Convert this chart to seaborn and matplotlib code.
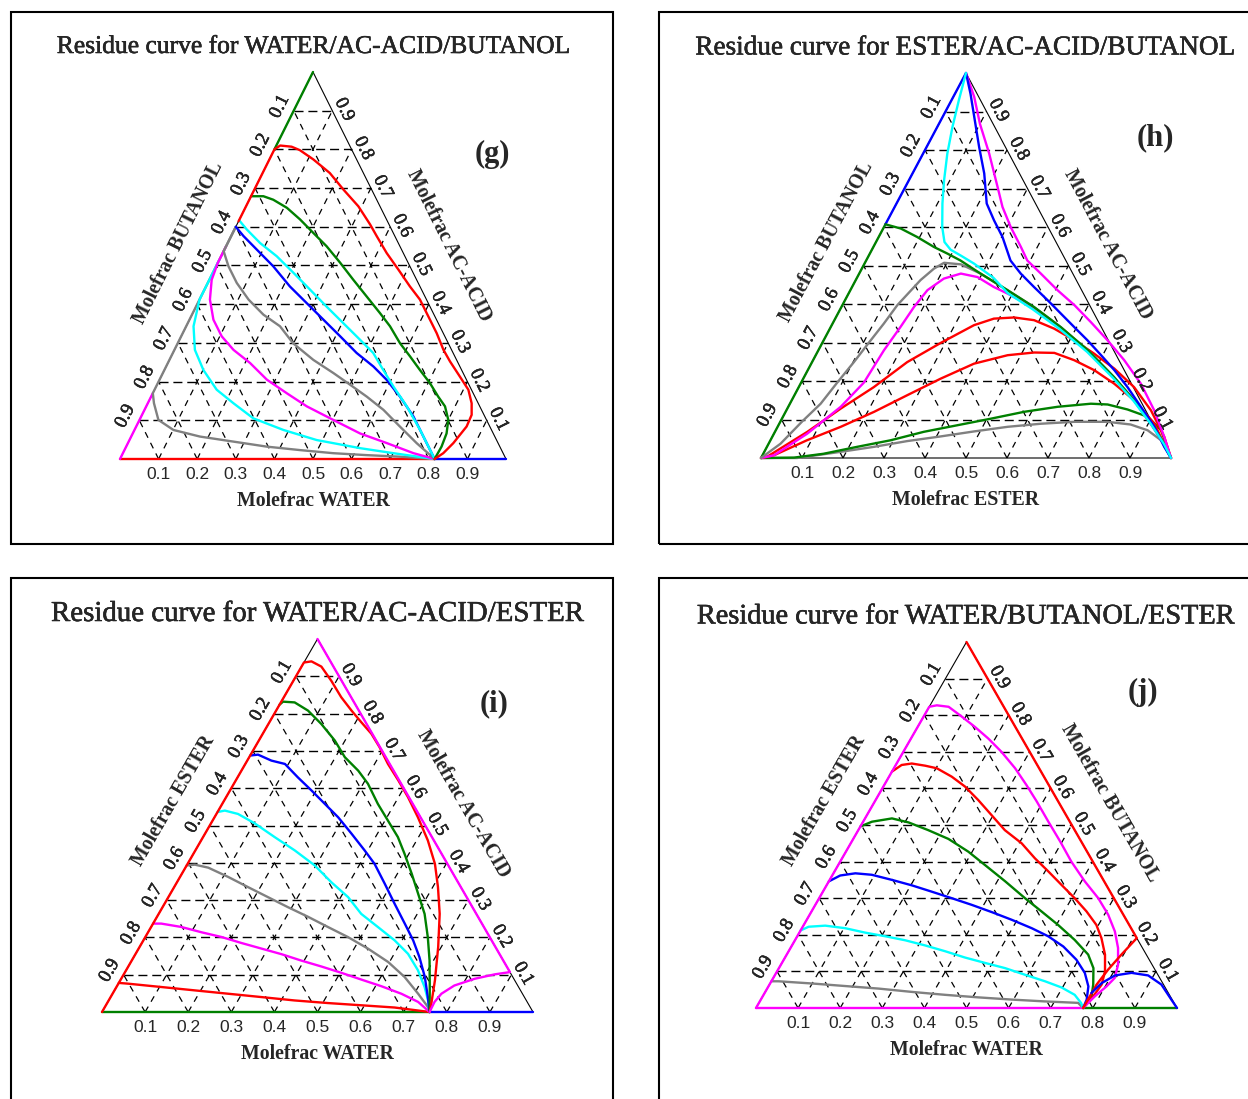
import numpy as np
import matplotlib
matplotlib.use("Agg")
import matplotlib.pyplot as plt
import matplotlib.patheffects as pe
from matplotlib.patches import Rectangle
import seaborn as sns

# compositions as (bottom-axis component, top component) molefractions
TICKS = [0.1, 0.2, 0.3, 0.4, 0.5, 0.6, 0.7, 0.8, 0.9]

# ---- (g) WATER / AC-ACID / BUTANOL ----
G_BOTTOM_RED = [(0, 0), (0.815, 0)]
G_BOTTOM_BLUE = [(0.815, 0), (1, 0)]
G_EDGE_MAGENTA = [(0, 0), (0, 0.17)]
G_EDGE_GREEN = [(0, 0.80), (0, 1)]
G_GRAY_2 = [(0, 0.60), (0, 0.17), (0.016, 0.144), (0.049, 0.101), (0.101, 0.075), (0.178, 0.058),
            (0.271, 0.045), (0.364, 0.032), (0.455, 0.023), (0.545, 0.015), (0.634, 0.010),
            (0.722, 0.006), (0.815, 0)]
G_CYAN_2 = [(0, 0.515), (0, 0.412), (0.019, 0.343), (0.053, 0.282), (0.101, 0.230), (0.161, 0.179),
            (0.222, 0.144), (0.293, 0.105), (0.386, 0.075), (0.485, 0.049), (0.608, 0.028),
            (0.701, 0.015), (0.815, 0)]
G_MAGENTA = [(0, 0.55), (0, 0.507), (0.006, 0.463), (0.027, 0.412), (0.062, 0.360), (0.105, 0.317),
             (0.153, 0.282), (0.213, 0.248), (0.278, 0.205), (0.347, 0.170), (0.416, 0.136),
             (0.502, 0.101), (0.589, 0.066), (0.671, 0.041), (0.753, 0.015), (0.815, 0)]
G_GRAY_1 = [(0, 0.60), (0, 0.537), (0.032, 0.498), (0.075, 0.455), (0.127, 0.412), (0.185, 0.373),
            (0.243, 0.343), (0.299, 0.299), (0.373, 0.256), (0.442, 0.222), (0.500, 0.192),
            (0.559, 0.161), (0.619, 0.127), (0.683, 0.084), (0.748, 0.041), (0.815, 0)]
G_BLUE = [(0, 0.600), (0.032, 0.576), (0.084, 0.541), (0.148, 0.498), (0.217, 0.446), (0.282, 0.403),
          (0.347, 0.360), (0.412, 0.317), (0.476, 0.274), (0.537, 0.239), (0.588, 0.205),
          (0.645, 0.161), (0.705, 0.110), (0.757, 0.058), (0.792, 0.023), (0.815, 0)]
G_CYAN_1 = [(0, 0.617), (0.032, 0.593), (0.084, 0.558), (0.144, 0.524), (0.209, 0.481), (0.273, 0.438),
            (0.338, 0.394), (0.403, 0.351), (0.468, 0.308), (0.519, 0.274), (0.567, 0.230),
            (0.615, 0.187), (0.675, 0.136), (0.740, 0.075), (0.783, 0.032), (0.815, 0)]
G_GREEN = [(0, 0.679), (0.032, 0.679), (0.062, 0.670), (0.108, 0.649), (0.157, 0.619), (0.209, 0.584),
           (0.260, 0.550), (0.317, 0.507), (0.373, 0.463), (0.429, 0.420), (0.485, 0.377),
           (0.528, 0.343), (0.576, 0.299), (0.619, 0.265), (0.662, 0.230), (0.705, 0.196),
           (0.744, 0.161), (0.774, 0.136), (0.800, 0.101), (0.813, 0.066), (0.817, 0.032), (0.815, 0)]
G_RED = [(0, 0.614), (0, 0.80), (0.010, 0.810), (0.041, 0.807), (0.067, 0.798), (0.114, 0.774),
         (0.174, 0.739), (0.231, 0.696), (0.291, 0.653), (0.345, 0.606), (0.377, 0.576),
         (0.425, 0.532), (0.477, 0.489), (0.528, 0.446), (0.571, 0.412), (0.615, 0.368),
         (0.658, 0.325), (0.697, 0.282), (0.729, 0.252), (0.774, 0.213), (0.813, 0.179),
         (0.839, 0.144), (0.854, 0.114), (0.856, 0.084), (0.843, 0.041), (0.830, 0.015), (0.815, 0)]

# ---- (h) ESTER / AC-ACID / BUTANOL ----
H_EDGE_GREEN = [(0, 0), (0, 0.607)]
H_EDGE_BLUE = [(0, 0.607), (0, 1)]
H_GRAY_2 = [(0, 0), (0.088, 0), (0.186, 0.016), (0.261, 0.029), (0.335, 0.044), (0.410, 0.056),
            (0.485, 0.069), (0.561, 0.081), (0.638, 0.089), (0.717, 0.094), (0.798, 0.094),
            (0.858, 0.087), (0.907, 0.072), (0.953, 0.046), (1, 0)]
H_GREEN_2 = [(0, 0), (0.08, 0.001), (0.147, 0.011), (0.220, 0.029), (0.293, 0.046), (0.363, 0.068),
             (0.436, 0.085), (0.509, 0.102), (0.582, 0.120), (0.657, 0.133), (0.734, 0.141),
             (0.776, 0.139), (0.831, 0.126), (0.890, 0.107), (0.940, 0.072), (1, 0)]
H_RED_2 = [(0, 0), (0.028, 0.007), (0.089, 0.046), (0.154, 0.081), (0.216, 0.120), (0.275, 0.163),
           (0.335, 0.206), (0.397, 0.245), (0.468, 0.267), (0.529, 0.274), (0.579, 0.273),
           (0.637, 0.254), (0.699, 0.228), (0.765, 0.193), (0.835, 0.150), (0.915, 0.089), (1, 0)]
H_RED_1 = [(0, 0), (0.013, 0.003), (0.079, 0.068), (0.130, 0.128), (0.183, 0.184), (0.232, 0.249),
           (0.289, 0.299), (0.347, 0.345), (0.387, 0.362), (0.435, 0.365), (0.487, 0.358),
           (0.547, 0.336), (0.611, 0.306), (0.677, 0.271), (0.746, 0.232), (0.818, 0.184),
           (0.889, 0.124), (0.956, 0.055), (1, 0)]
H_MAGENTA_1 = [(0, 0), (0.028, 0.007), (0.081, 0.063), (0.128, 0.133), (0.153, 0.196), (0.160, 0.280),
               (0.170, 0.340), (0.177, 0.392), (0.188, 0.436), (0.213, 0.466), (0.248, 0.479),
               (0.293, 0.470), (0.346, 0.444), (0.388, 0.427), (0.470, 0.390), (0.561, 0.338),
               (0.657, 0.278), (0.756, 0.209), (0.835, 0.149), (0.907, 0.088), (0.965, 0.036), (1, 0)]
H_GRAY_1 = [(0, 0), (0.029, 0.037), (0.053, 0.095), (0.075, 0.141), (0.088, 0.196), (0.102, 0.249),
            (0.112, 0.294), (0.125, 0.349), (0.134, 0.397), (0.158, 0.462), (0.176, 0.492),
            (0.193, 0.507), (0.236, 0.503), (0.296, 0.479), (0.383, 0.436), (0.470, 0.392),
            (0.561, 0.340), (0.657, 0.280), (0.756, 0.210), (0.835, 0.150), (0.907, 0.089),
            (0.965, 0.037), (1, 0)]
H_GREEN_1 = [(0, 0.607), (0.043, 0.596), (0.094, 0.574), (0.148, 0.548), (0.189, 0.531), (0.230, 0.513),
             (0.296, 0.479), (0.383, 0.436), (0.470, 0.392), (0.561, 0.340), (0.657, 0.280),
             (0.756, 0.210), (0.835, 0.150), (0.907, 0.089), (0.965, 0.037), (1, 0)]
H_MAGENTA_2 = [(0, 1), (0.051, 0.938), (0.100, 0.868), (0.161, 0.791), (0.225, 0.704), (0.263, 0.652),
               (0.309, 0.600), (0.360, 0.548), (0.393, 0.513), (0.443, 0.479), (0.505, 0.436),
               (0.566, 0.397), (0.628, 0.353), (0.692, 0.306), (0.759, 0.254), (0.830, 0.193),
               (0.897, 0.124), (0.956, 0.055), (1, 0)]
H_BLUE = [(0, 1), (0.038, 0.946), (0.083, 0.877), (0.128, 0.808), (0.175, 0.739), (0.220, 0.661),
          (0.260, 0.617), (0.302, 0.574), (0.352, 0.513), (0.394, 0.479), (0.444, 0.444),
          (0.494, 0.410), (0.544, 0.375), (0.594, 0.340), (0.643, 0.306), (0.696, 0.267),
          (0.748, 0.228), (0.802, 0.184), (0.860, 0.133), (0.919, 0.081), (0.969, 0.029), (1, 0)]
H_CYAN = [(0, 1), (0.018, 0.929), (0.037, 0.860), (0.059, 0.791), (0.086, 0.721), (0.112, 0.661),
          (0.142, 0.600), (0.167, 0.561), (0.192, 0.541), (0.224, 0.526), (0.267, 0.505),
          (0.333, 0.468), (0.388, 0.428), (0.470, 0.386), (0.561, 0.335), (0.657, 0.276),
          (0.756, 0.207), (0.835, 0.148), (0.907, 0.088), (0.965, 0.036), (1, 0)]

# ---- (i) WATER / AC-ACID / ESTER ----
I_BOTTOM_GREEN = [(0, 0), (0.76, 0)]
I_BOTTOM_BLUE = [(0.76, 0), (1, 0)]
I_RED_2 = [(0, 0.078), (0.022, 0.076), (0.104, 0.067), (0.186, 0.058), (0.268, 0.049), (0.350, 0.040),
           (0.431, 0.031), (0.512, 0.024), (0.593, 0.018), (0.673, 0.012), (0.76, 0)]
I_MAGENTA_2 = [(0, 0.237), (0.019, 0.237), (0.070, 0.228), (0.123, 0.214), (0.177, 0.201),
               (0.231, 0.185), (0.285, 0.170), (0.339, 0.155), (0.393, 0.138), (0.448, 0.122),
               (0.503, 0.105), (0.558, 0.087), (0.614, 0.069), (0.670, 0.049), (0.720, 0.027), (0.76, 0)]
I_GRAY = [(0, 0.393), (0.018, 0.395), (0.053, 0.387), (0.112, 0.362), (0.171, 0.335), (0.231, 0.308),
          (0.291, 0.281), (0.351, 0.255), (0.410, 0.228), (0.470, 0.201), (0.532, 0.170),
          (0.597, 0.134), (0.655, 0.094), (0.709, 0.049), (0.750, 0.013), (0.76, 0)]
I_CYAN = [(0, 0.536), (0.015, 0.540), (0.050, 0.531), (0.101, 0.506), (0.166, 0.469), (0.231, 0.433),
          (0.297, 0.393), (0.358, 0.348), (0.417, 0.308), (0.470, 0.263), (0.526, 0.228),
          (0.583, 0.192), (0.632, 0.156), (0.677, 0.112), (0.715, 0.067), (0.741, 0.031), (0.76, 0)]
I_BLUE = [(0, 0.6875), (0.017, 0.690), (0.056, 0.674), (0.092, 0.665), (0.140, 0.629), (0.189, 0.594),
          (0.238, 0.558), (0.287, 0.522), (0.340, 0.478), (0.393, 0.433), (0.434, 0.397),
          (0.484, 0.344), (0.534, 0.290), (0.584, 0.237), (0.626, 0.192), (0.663, 0.147),
          (0.702, 0.094), (0.736, 0.040), (0.76, 0)]
I_GREEN = [(0, 0.824), (0.004, 0.832), (0.032, 0.830), (0.074, 0.808), (0.123, 0.772), (0.176, 0.728),
           (0.222, 0.683), (0.271, 0.647), (0.311, 0.612), (0.361, 0.558), (0.407, 0.513),
           (0.452, 0.469), (0.490, 0.424), (0.533, 0.371), (0.575, 0.317), (0.617, 0.263),
           (0.656, 0.200), (0.691, 0.138), (0.727, 0.067), (0.76, 0)]
I_RED_1 = [(0, 0), (0, 0.937), (0.016, 0.940), (0.046, 0.926), (0.088, 0.888), (0.133, 0.844),
           (0.175, 0.808), (0.213, 0.777), (0.252, 0.746), (0.289, 0.710), (0.331, 0.665),
           (0.377, 0.621), (0.422, 0.576), (0.472, 0.522), (0.526, 0.460), (0.574, 0.397),
           (0.612, 0.335), (0.652, 0.263), (0.693, 0.174), (0.730, 0.085), (0.753, 0.022), (0.76, 0)]
I_MAGENTA_1 = [(0, 1), (0.893, 0.107), (0.861, 0.101), (0.820, 0.089), (0.782, 0.071), (0.763, 0.049),
               (0.758, 0.027), (0.76, 0)]

# ---- (j) WATER / BUTANOL / ESTER ----
J_BOTTOM_MAGENTA = [(0, 0), (0.777, 0)]
J_BOTTOM_GREEN = [(0.777, 0), (1, 0)]
J_GRAY = [(0, 0.073), (0.017, 0.073), (0.099, 0.067), (0.182, 0.060), (0.265, 0.053), (0.348, 0.044),
          (0.431, 0.036), (0.514, 0.029), (0.596, 0.023), (0.677, 0.018), (0.758, 0.014), (0.777, 0)]
J_CYAN = [(0, 0.212), (0.014, 0.222), (0.052, 0.225), (0.103, 0.218), (0.156, 0.206), (0.209, 0.196),
          (0.262, 0.185), (0.316, 0.171), (0.372, 0.155), (0.427, 0.138), (0.483, 0.123),
          (0.537, 0.109), (0.593, 0.091), (0.650, 0.073), (0.698, 0.056), (0.739, 0.036),
          (0.765, 0.014), (0.777, 0)]
J_BLUE = [(0, 0.346), (0.019, 0.362), (0.052, 0.368), (0.093, 0.364), (0.148, 0.350), (0.203, 0.335),
          (0.258, 0.318), (0.315, 0.300), (0.371, 0.282), (0.429, 0.262), (0.487, 0.241),
          (0.546, 0.218), (0.596, 0.196), (0.646, 0.168), (0.695, 0.132), (0.733, 0.096),
          (0.760, 0.059), (0.774, 0.023), (0.777, 0)]
J_GREEN = [(0, 0.496), (0.021, 0.509), (0.064, 0.518), (0.109, 0.507), (0.166, 0.486), (0.226, 0.462),
           (0.291, 0.427), (0.348, 0.391), (0.419, 0.346), (0.489, 0.300), (0.546, 0.264),
           (0.604, 0.227), (0.664, 0.186), (0.716, 0.146), (0.747, 0.109), (0.769, 0.064),
           (0.783, 0.027), (0.777, 0)]
J_RED_2 = [(0, 0.646), (0.014, 0.664), (0.036, 0.668), (0.071, 0.662), (0.102, 0.655), (0.149, 0.632),
           (0.194, 0.605), (0.244, 0.568), (0.296, 0.527), (0.348, 0.486), (0.406, 0.450),
           (0.458, 0.409), (0.508, 0.373), (0.558, 0.336), (0.607, 0.300), (0.653, 0.264),
           (0.695, 0.227), (0.725, 0.191), (0.756, 0.146), (0.779, 0.100), (0.789, 0.064),
           (0.785, 0.032), (0.777, 0)]
J_MAGENTA = [(0, 0), (0, 0.823), (0.016, 0.827), (0.046, 0.823), (0.091, 0.796), (0.136, 0.768),
             (0.184, 0.736), (0.233, 0.700), (0.288, 0.655), (0.338, 0.609), (0.385, 0.564),
             (0.440, 0.509), (0.495, 0.455), (0.549, 0.400), (0.608, 0.346), (0.663, 0.300),
             (0.709, 0.255), (0.748, 0.209), (0.778, 0.164), (0.801, 0.118), (0.811, 0.082),
             (0.803, 0.059), (0.789, 0.032), (0.777, 0)]
J_RED_1 = [(0, 1), (0.809, 0.191), (0.795, 0.146), (0.784, 0.105), (0.777, 0.064), (0.777, 0.023),
           (0.777, 0)]
J_BLUE_2 = [(0.776, 0.041), (0.787, 0.068), (0.808, 0.089), (0.844, 0.096), (0.887, 0.089),
            (0.931, 0.064), (0.975, 0.023), (1, 0)]

RED, GREEN, BLUE = "#ff0000", "#008000", "#0000ff"
CYAN, MAGENTA, GRAY = "#00ffff", "#ff00ff", "#808080"

# layout in pixels: triangle (left, right, base y, apex y), box (x0, y0, x1, y1)
PANELS = [
    dict(tri=(120, 506, 459, 72), box=(11, 12, 613, 544), letter="(g)", letter_pos=(0.964, 0.786),
         title="Residue curve for WATER/AC-ACID/BUTANOL", title_size=18.4,
         labels=("Molefrac WATER", "Molefrac BUTANOL", "Molefrac AC-ACID"),
         curves=[(G_BOTTOM_RED, RED), (G_BOTTOM_BLUE, BLUE), (G_EDGE_MAGENTA, MAGENTA),
                 (G_EDGE_GREEN, GREEN), (G_GRAY_2, GRAY), (G_CYAN_2, CYAN), (G_MAGENTA, MAGENTA),
                 (G_GRAY_1, GRAY), (G_BLUE, BLUE), (G_CYAN_1, CYAN), (G_GREEN, GREEN), (G_RED, RED)]),
    dict(tri=(761, 1171, 458, 73), box=(659, 12, 1252, 544), letter="(h)", letter_pos=(0.963, 0.831),
         title="Residue curve for ESTER/AC-ACID/BUTANOL", title_size=19.6,
         labels=("Molefrac ESTER", "Molefrac BUTANOL", "Molefrac AC-ACID"),
         curves=[(H_EDGE_GREEN, GREEN), (H_EDGE_BLUE, BLUE), (H_GRAY_2, GRAY), (H_GREEN_2, GREEN),
                 (H_RED_2, RED), (H_RED_1, RED), (H_MAGENTA_1, MAGENTA), (H_GRAY_1, GRAY),
                 (H_GREEN_1, GREEN), (H_MAGENTA_2, MAGENTA), (H_BLUE, BLUE), (H_CYAN, CYAN)]),
    dict(tri=(102, 533, 1012, 639), box=(11, 578, 613, 1104), letter="(i)", letter_pos=(0.909, 0.826),
         title="Residue curve for WATER/AC-ACID/ESTER", title_size=20.8,
         labels=("Molefrac WATER", "Molefrac ESTER", "Molefrac AC-ACID"),
         curves=[(I_BOTTOM_GREEN, GREEN), (I_BOTTOM_BLUE, BLUE), (I_RED_2, RED), (I_MAGENTA_2, MAGENTA),
                 (I_GRAY, GRAY), (I_CYAN, CYAN), (I_BLUE, BLUE), (I_GREEN, GREEN), (I_RED_1, RED),
                 (I_MAGENTA_1, MAGENTA)]),
    dict(tri=(756, 1177, 1008, 642), box=(659, 578, 1252, 1104), letter="(j)", letter_pos=(0.919, 0.863),
         title="Residue curve for WATER/BUTANOL/ESTER", title_size=20.4,
         labels=("Molefrac WATER", "Molefrac ESTER", "Molefrac BUTANOL"),
         curves=[(J_BOTTOM_MAGENTA, MAGENTA), (J_BOTTOM_GREEN, GREEN), (J_GRAY, GRAY), (J_CYAN, CYAN),
                 (J_BLUE, BLUE), (J_GREEN, GREEN), (J_RED_2, RED), (J_MAGENTA, MAGENTA),
                 (J_RED_1, RED), (J_BLUE_2, BLUE)]),
]

W, H = 1248, 1099
sns.set_style("white")
plt.rcParams["font.family"] = ["Liberation Serif", "DejaVu Serif"]

fig = plt.figure(figsize=(W / 100, H / 100), dpi=100)
heavy = [pe.withStroke(linewidth=0.35, foreground="black")]
light = [pe.withStroke(linewidth=0.35, foreground="black")]


def to_xy(pts):
    b = np.array([p[0] for p in pts], dtype=float)
    a = np.array([p[1] for p in pts], dtype=float)
    return b + a / 2, a


for p in PANELS:
    x0, y0, x1, y1 = p["box"]
    fig.add_artist(Rectangle((x0 / W, 1 - y1 / H), (x1 - x0) / W, (y1 - y0) / H,
                             transform=fig.transFigure, fill=False, ec="black", lw=1.5))

    left, right, base, apex = p["tri"]
    tw, th = right - left, base - apex
    ax = fig.add_axes([left / W, 1 - base / H, tw / W, th / H])
    ax.set_xlim(0, 1)
    ax.set_ylim(0, 1)
    ax.axis("off")

    # dashed grid
    for t in TICKS:
        ax.plot([t / 2, 1 - t / 2], [t, t], color="black", lw=1.0, ls=(0, (6.5, 3.5)), clip_on=False, zorder=1)
        ax.plot([t, t + (1 - t) / 2], [0, 1 - t], color="black", lw=0.9, ls=(0, (5, 4.5)), clip_on=False, zorder=1)
        ax.plot([t, t / 2], [0, t], color="black", lw=0.9, ls=(0, (5, 4.5)), clip_on=False, zorder=1)
    ax.plot([0, 0.5, 1, 0], [0, 1, 0, 0], color="black", lw=0.8, clip_on=False, zorder=2)

    for pts, col in p["curves"]:
        xs, ys = to_xy(pts)
        sns.lineplot(x=xs, y=ys, sort=False, estimator=None, color=col, lw=1.7,
                     ax=ax, legend=False, clip_on=False, zorder=3)

    ang = np.degrees(np.arctan2(th, tw / 2))
    L = np.hypot(th, tw / 2)
    nl = np.array([-th, tw / 2]) / L
    nr = np.array([th, tw / 2]) / L
    ed = np.array([tw / 2, th]) / L

    for t in TICKS:
        ax.annotate(f"{t:.1f}", (t, 0), xytext=(0, -16), textcoords="offset pixels",
                    ha="center", va="center", fontsize=12.5, family="Liberation Sans")
        ax.annotate(f"{1 - t:.1f}", (t / 2, t), xytext=(-14, 4), textcoords="offset pixels",
                    ha="center", va="center", fontsize=13.5, rotation=ang, path_effects=light)
        ax.annotate(f"{t:.1f}", (1 - t / 2, t), xytext=(12, 1), textcoords="offset pixels",
                    ha="center", va="center", fontsize=13.5, rotation=-ang, path_effects=light)

    bottom_lab, left_lab, right_lab = p["labels"]
    ax.annotate(bottom_lab, (0.5, 0), xytext=(0, -42), textcoords="offset pixels",
                ha="center", va="center", fontsize=14.3, fontweight="bold")
    ax.annotate(left_lab, (0.25, 0.5), xytext=tuple(nl * 44 + ed * 3), textcoords="offset pixels",
                ha="center", va="center", fontsize=14.3, fontweight="bold", rotation=ang)
    ax.annotate(right_lab, (0.75, 0.5), xytext=tuple(nr * 44), textcoords="offset pixels",
                ha="center", va="center", fontsize=14.3, fontweight="bold", rotation=-ang)

    ax.annotate(p["title"], (0.5, 1), xytext=(0, 25), textcoords="offset pixels",
                ha="center", va="center", fontsize=p["title_size"], path_effects=heavy)
    ax.text(p["letter_pos"][0], p["letter_pos"][1], p["letter"], transform=ax.transAxes,
            ha="center", va="center", fontsize=22, fontweight="bold")

fig.savefig("out.png", dpi=100)
plt.close(fig)
